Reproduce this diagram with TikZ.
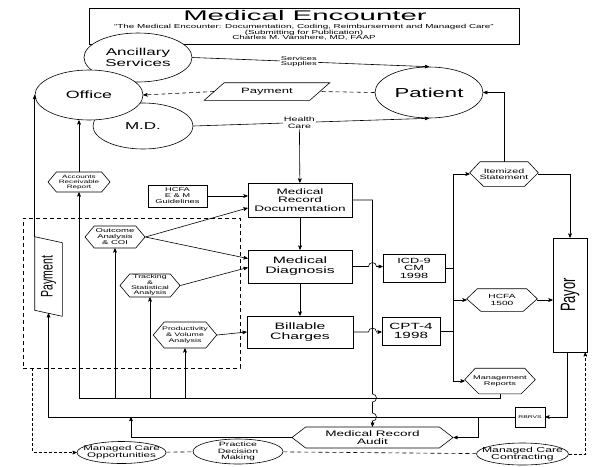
\documentclass[tikz,border=0pt]{standalone}
\usepackage{graphicx}
\usepackage{fontspec}
\setmainfont{Liberation Sans}[FakeStretch=1.7]
\newfontfamily\plainsf{Liberation Sans}
\newfontfamily\titlesf{Liberation Sans}[FakeStretch=2.1]
\usetikzlibrary{arrows,positioning,calc,shapes.geometric,shapes.symbols}

\newcommand\fsz[2]{\fontsize{#1}{#2}\selectfont}
\newcommand\pentline[1]{\draw ($(#1.north west)!.15!(#1.north east)$) -- ($(#1.north west)!.85!(#1.north east)$) -- ($(#1.north east)!.45!(#1.south east)$) -- ($(#1.south west)!.8!(#1.south east)$) -- ($(#1.south west)!.2!(#1.south east)$) -- ($(#1.north west)!.45!(#1.south west)$) -- cycle;}
\newcommand\slantx[2]{\draw ([xshift=#2]#1.north west) -- ([xshift=#2]#1.north east) -- ([xshift=-#2]#1.south east) -- ([xshift=-#2]#1.south west) -- cycle;}
\newcommand\slanty[2]{\draw ([yshift=#2]#1.north west) -- ([yshift=-#2]#1.north east) -- ([yshift=-#2]#1.south east) -- ([yshift=#2]#1.south west) -- cycle;}

\begin{document}
\begin{tikzpicture}[x=1pt,y=-1pt,>=stealth',line width=0.6pt,on grid,
    oval/.style={draw,ellipse,fill=white,inner xsep=-8pt,inner ysep=-2pt,align=center},
    box/.style={draw,rectangle,inner sep=0pt,align=center},
    hexa/.style={draw,signal,signal to=east and west,signal pointer angle=100,inner xsep=-2pt,inner ysep=0pt,align=center},
    flat/.style={rectangle,inner sep=0pt,align=center},
    broken/.style={dash pattern=on 4pt off 3pt},
    tag/.style={fill=white,inner sep=1pt,align=center,font=\fsz{5.5}{5.8}}]
\useasboundingbox (0,0) rectangle (594,466);

% heading
\node[box,minimum width=430pt,minimum height=36pt] (title) at (304,26) {};
\node[font=\titlesf\fsz{14}{15}] (ttl) at (305,15.5) {Medical Encounter};
\node[align=center,inner sep=0pt,font=\fsz{5.8}{5.6}] (sub) at (304,32.5) {``The Medical Encounter: Documentation, Coding, Reimbursement and Managed Care''\\(Submitting for Publication)\\Charles M. Vanshere, MD, FAAP};

\node[oval,minimum width=108pt,minimum height=49pt,font=\fsz{10}{10.5}] (anc) at (138,57.5) {Ancillary\\Services};
\node[oval,minimum width=100pt,minimum height=46pt,font=\fsz{10}{11}] (md) at (143,126) {M.D.};
\node[oval,minimum width=108pt,minimum height=50pt,font=\fsz{10.5}{11}] (office) at (89,95) {Office};
\node[oval,minimum width=108pt,minimum height=51pt,font=\fsz{13}{14}] (patient) at (429,92.5) {Patient};
\node[flat,minimum width=105pt,minimum height=17pt,font=\fsz{7.7}{8}] (pay) at (267,91.5) {Payment};
\slantx{pay}{10pt}

% coding column
\node[box,minimum width=104pt,minimum height=34pt,font=\fsz{8}{8.5}] (mrd) at (300,200) {Medical\\Record\\Documentation};
\node[box,minimum width=104pt,minimum height=33pt,font=\fsz{9.3}{10}] (diag) [below=66.5pt of mrd] {Medical\\Diagnosis};
\node[box,minimum width=106pt,minimum height=32pt,font=\fsz{9.3}{10}] (bill) [below=65.5pt of diag] {Billable\\Charges};
\node[box,minimum width=59pt,minimum height=22pt,font=\fsz{5.5}{6}] (guide) at (177.5,196) {HCFA\\E \& M\\Guidelines};
\node[box,minimum width=62pt,minimum height=28pt,font=\fsz{7.5}{7.5}] (icd) at (414,268) {ICD-9\\CM\\1998};
\node[box,minimum width=58pt,minimum height=28pt,font=\fsz{9}{9.5}] (cpt) at (411,331) {CPT-4\\1998};

\node[flat,minimum width=68pt,minimum height=24pt,font=\fsz{6.3}{6.5}] (item) at (504,174) {Itemized\\Statement};
\pentline{item}
\node[flat,minimum width=70pt,minimum height=22pt,font=\fsz{6}{6.5}] (hcfa) at (502,300) {HCFA\\1500};
\pentline{hcfa}
\node[flat,minimum width=70pt,minimum height=25pt,font=\fsz{5.4}{5.8}] (mgmt) at (500,381) {Management\\Reports};
\pentline{mgmt}
\node[box,minimum width=34pt,minimum height=114pt] (payor) at (570,295) {\rotatebox{90}{\scalebox{1}[1.6]{\plainsf\fsz{13}{13}Payor}}};
\node[box,minimum width=30pt,minimum height=20pt,font=\fsz{4}{4}] (rbrvs) at (530,417) {RBRVS};
\node[hexa,signal pointer angle=75,minimum width=161pt,minimum height=21pt,font=\fsz{8}{8.5}] (mra) at (372.5,437.5) {Medical Record\\Audit};

% analysis group
\node[draw,broken,minimum width=217pt,minimum height=150pt] (grp) at (131.5,293) {};
\node[hexa,minimum width=62pt,minimum height=20pt,font=\fsz{4.8}{5}] (ar) at (79,182) {Accounts\\Receivable\\Report};
\node[hexa,minimum width=60pt,minimum height=22pt,font=\fsz{5.6}{6}] (outc) at (115,237) {Outcome\\Analysis\\\& COI};
\node[hexa,minimum width=60pt,minimum height=23pt,font=\fsz{5.2}{5.4}] (track) at (150,285.5) {Tracking\\\&\\Statistical\\Analysis};
\node[hexa,minimum width=62pt,minimum height=26pt,font=\fsz{5.2}{5.8}] (prod) at (185,335) {Productivity\\\& Volume\\Analysis};
\node[flat,minimum width=27pt,minimum height=73pt] (paybox) at (48.5,276.5) {\rotatebox{90}{\scalebox{1}[1.6]{\plainsf\fsz{10.5}{10.5}Payment}}};
\slanty{paybox}{3pt}

\node[oval,minimum width=89pt,minimum height=22pt,font=\fsz{6.8}{7}] (mco) at (121.5,452.5) {Managed Care\\Opportunities};
\node[oval,minimum width=90pt,minimum height=25pt,font=\fsz{6.2}{6.8}] (pdm) at (238,451.5) {Practice\\Decision\\Making};
\node[oval,minimum width=91pt,minimum height=22pt,font=\fsz{7.2}{7.5}] (mcc) at (522.5,454) {Managed Care\\Contracting};

\coordinate (bus) at (453,174);
\coordinate (j1) at (131,417);
\coordinate (j2) at (478,417);
\coordinate (j3) at (79,398);
\coordinate (j4) at ([xshift=10pt]grp.south west);

\draw[->] (anc.east) -- node[tag,pos=.45] {Services\\Supplies} (patient.north);
\draw[->] (md.east) -- node[tag,pos=.45,font=\fsz{6.3}{6.6}] (hc) {Health\\Care} (patient.south);
\draw[->] (hc) -- (mrd);
\draw[broken] (patient.west) -- (pay.east);
\draw[broken,->] (pay.west) -- (office.east);

\draw[->] (guide.east) -- (guide.east -| mrd.west);
\draw[->] (mrd) -- (diag);
\draw[->] (diag) -- (bill);
\draw[->] (diag.east) -- ($(diag.east -| mra.north)+(-4,0)$) arc[start angle=180,end angle=360,radius=4] -- (icd.west |- diag.east);
\draw[->] (bill.east) -- ($(bill.east -| mra.north)+(-4,0)$) arc[start angle=180,end angle=360,radius=4] -- (cpt.west |- bill.east);
\draw[->] (mrd.east) -- (mrd.east -| mra.north) -- ($(mra.north |- j3)+(0,-4)$) arc[start angle=270,end angle=450,radius=4] -- ($(mra.north |- j1)+(0,-4)$) arc[start angle=270,end angle=450,radius=4] -- (mra.north);

\draw (icd.east) -- (icd.east -| bus);
\draw (cpt.east) -- (cpt.east -| bus);
\draw[->] (bus |- mgmt.west) -- (bus |- item.west) -- (item.west);
\draw[->] (bus |- hcfa.west) -- (hcfa.west);
\draw[->] (bus |- mgmt.west) -- (mgmt.west);
\draw[->] (item.north) |- (patient.east);
\draw[->] (item.east) -| (payor.north);
\draw[->] (hcfa.east) -- (hcfa.east -| payor.west);
\draw[->] ([xshift=-3pt]payor.south) |- (rbrvs.east);
\draw[->] (rbrvs.west) -| (paybox.south);
\draw[->] (mra.west) -| (j1);
\draw[->] (j2) |- (mra.east);
\draw[->] ([yshift=3pt]paybox.north west) -- (office.west);

\draw (mgmt.south) |- (j3);
\draw[->] (j3) -- (ar.south);
\draw[->] (ar.north) -- (ar.north |- office.south);
\draw[->] (outc.south |- j3) -- (outc.south);
\draw[->] (track.south |- j3) -- (track.south);
\draw[->] (prod.south |- j3) -- (prod.south);
\draw[->] (outc.east) -- ([yshift=-8pt]mrd.west);
\draw[->] (outc.east) -- ([yshift=8pt]diag.west);
\draw[->] (track.east) -- ([yshift=-1pt]diag.west);
\draw[->] (prod.east) -- (bill.west);

\draw[densely dashed,->] (j4) |- (mco.west);
\draw[broken] (mco) -- (pdm) -- (mcc);
\draw[densely dashed,->] (mcc.east) -| ([xshift=-2pt]payor.south east);
\end{tikzpicture}
\end{document}
